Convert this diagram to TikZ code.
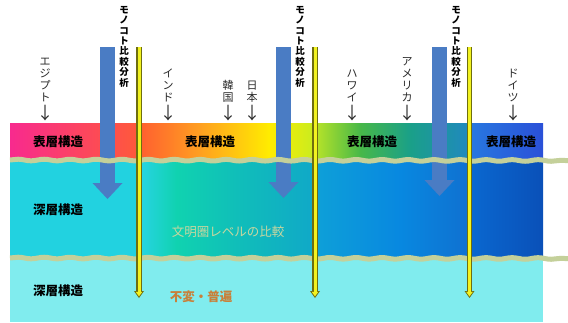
\documentclass[tikz,border=0pt]{standalone}
\usepackage{fontspec}
\newfontfamily\jp{Noto Sans CJK JP}
\usetikzlibrary{arrows.meta,decorations.pathmorphing}
\definecolor{ta0}{HTML}{F82A8E}
\definecolor{ta1}{HTML}{FF5A3A}
\definecolor{tb0}{HTML}{FF5E30}
\definecolor{tb1}{HTML}{FFA020}
\definecolor{tb2}{HTML}{FFEC00}
\definecolor{tb3}{HTML}{C8EC20}
\definecolor{tc0}{HTML}{B8E428}
\definecolor{tc1}{HTML}{48B848}
\definecolor{tc2}{HTML}{1AA088}
\definecolor{tc3}{HTML}{2088C0}
\definecolor{td0}{HTML}{2878E0}
\definecolor{td1}{HTML}{2A50D8}
\definecolor{ma}{HTML}{22D2E0}
\definecolor{mb0}{HTML}{28D4E4}
\definecolor{mb1}{HTML}{10D2B0}
\definecolor{mb2}{HTML}{10C0B8}
\definecolor{mb3}{HTML}{10A8C8}
\definecolor{mc0}{HTML}{0EA0D8}
\definecolor{mc1}{HTML}{0888E0}
\definecolor{mc2}{HTML}{1070D0}
\definecolor{md0}{HTML}{0A68D0}
\definecolor{md1}{HTML}{0A50B8}
\definecolor{botc}{HTML}{80ECEE}
\definecolor{wavec}{HTML}{C4D09A}
\definecolor{barrow}{HTML}{4A7CC4}
\definecolor{ydark}{HTML}{6E6E10}
\definecolor{yfill}{HTML}{F2F220}
\definecolor{civ}{HTML}{C8D6A0}
\definecolor{inv}{HTML}{C8803A}
\definecolor{lab}{HTML}{2A2A2A}
\pgfdeclarehorizontalshading{topB}{100bp}{color(0bp)=(tb0); color(25bp)=(tb0); color(42.5bp)=(tb1); color(62bp)=(tb2); color(75bp)=(tb3); color(100bp)=(tb3)}
\pgfdeclarehorizontalshading{topC}{100bp}{color(0bp)=(tc0); color(25bp)=(tc0); color(39.5bp)=(tc1); color(55.5bp)=(tc2); color(75bp)=(tc3); color(100bp)=(tc3)}
\pgfdeclarehorizontalshading{midB}{100bp}{color(0bp)=(mb0); color(25bp)=(mb0); color(35.7bp)=(mb1); color(51bp)=(mb2); color(75bp)=(mb3); color(100bp)=(mb3)}
\pgfdeclarehorizontalshading{midC}{100bp}{color(0bp)=(mc0); color(25bp)=(mc0); color(52.5bp)=(mc1); color(75bp)=(mc2); color(100bp)=(mc2)}
\tikzset{
  bluearrow/.style={draw=barrow, line width=15pt, -{Triangle[width=30pt,length=16pt,line width=0pt]}},
  wave/.style={draw=wavec, line width=5pt, decorate, decoration={snake, segment length=26pt, amplitude=0.8pt}},
  yout/.style={draw=ydark, line width=5.5pt, -{Triangle[width=10pt,length=7pt,line width=0pt]}},
  yin/.style={draw=yfill, line width=3pt, shorten >=1.6pt, -{Triangle[width=6.5pt,length=4.5pt,line width=0pt]}},
  layer/.style={font=\jp\bfseries\fontsize{12.5}{13}\selectfont, text=black, inner sep=0pt},
  country/.style={font=\jp\fontsize{11}{12}\selectfont, text=lab, align=center, inner sep=0pt, anchor=south},
  mono/.style={font=\jp\bfseries\fontsize{9.5}{10.4}\selectfont, text=black, align=center, inner sep=0pt, anchor=north},
}
\newcommand{\dn}{\\[2pt]{\fontsize{17}{17}\selectfont ↓}}
\begin{document}
\begin{tikzpicture}[x=1pt,y=-1pt]
\useasboundingbox (0,0) rectangle (568,322);
\fill[white] (0,0) rectangle (568,322);
% top band
\shade[left color=ta0,right color=ta1] (10,123) rectangle (139,160);
\shade[shading=topB] (139,123) rectangle (315,160);
\shade[shading=topC] (315,123) rectangle (470,160);
\shade[left color=td0,right color=td1] (470,123) rectangle (543,160);
% middle band
\fill[ma] (10,160) rectangle (139,258);
\shade[shading=midB] (139,160) rectangle (315,258);
\shade[shading=midC] (315,160) rectangle (470,258);
\shade[left color=md0,right color=md1] (470,160) rectangle (543,258);
% bottom band
\fill[botc] (10,258) rectangle (543,322);
% blue arrows
\coordinate (bt1) at (107.5,47); \coordinate (bh1) at (107.5,199);
\coordinate (bt2) at (283.5,47); \coordinate (bh2) at (283.5,198);
\coordinate (bt3) at (439.5,47); \coordinate (bh3) at (439.5,196);
\draw[bluearrow] (bt1) -- (bh1);
\draw[bluearrow] (bt2) -- (bh2);
\draw[bluearrow] (bt3) -- (bh3);
% wavy lines
\coordinate (w1a) at (10,160); \coordinate (w1b) at (568,160.5);
\coordinate (w2a) at (10,258); \coordinate (w2b) at (568,258.5);
\draw[wave] (w1a) -- (w1b);
\draw[wave] (w2a) -- (w2b);
% yellow arrows
\coordinate (yt1) at (139,47); \coordinate (yh1) at (139,298);
\coordinate (yt2) at (315,47); \coordinate (yh2) at (315,298);
\coordinate (yt3) at (469.5,47); \coordinate (yh3) at (469.5,298);
\draw[yout] (yt1) -- (yh1); \draw[yin] (yt1) -- (yh1);
\draw[yout] (yt2) -- (yh2); \draw[yin] (yt2) -- (yh2);
\draw[yout] (yt3) -- (yh3); \draw[yin] (yt3) -- (yh3);
% vertical labels
\node[mono] (m1) at (124,6) {モ\\ノ\\コ\\ト\\比\\較\\分\\析};
\node[mono] (m2) at (300,6) {モ\\ノ\\コ\\ト\\比\\較\\分\\析};
\node[mono] (m3) at (456,6) {モ\\ノ\\コ\\ト\\比\\較\\分\\析};
\node[country] (egypt) at (45,121) {エ\\ジ\\プ\\ト\dn};
\node[country] (india) at (168,121) {イ\\ン\\ド\dn};
\node[country] (korea) at (228,121) {韓\\国\dn};
\node[country] (japan) at (252,121) {日\\本\dn};
\node[country] (hawaii) at (352,121) {ハ\\ワ\\イ\dn};
\node[country] (usa) at (407,121) {ア\\メ\\リ\\カ\dn};
\node[country] (germany) at (513,121) {ド\\イ\\ツ\dn};
% layer labels
\node[layer] (s1) at (58,142) {表層構造};
\node[layer] (s2) at (210,142) {表層構造};
\node[layer] (s3) at (372,142) {表層構造};
\node[layer] (s4) at (511,142) {表層構造};
\node[layer] (d1) at (58,210) {深層構造};
\node[layer] (d2) at (58,291) {深層構造};
\node[layer, font=\jp\fontsize{12.5}{13}\selectfont, text=civ] (civ) at (228,232) {文明圏レベルの比較};
\node[layer, text=inv] (inv) at (201,297) {不変・普遍};
\end{tikzpicture}
\end{document}
